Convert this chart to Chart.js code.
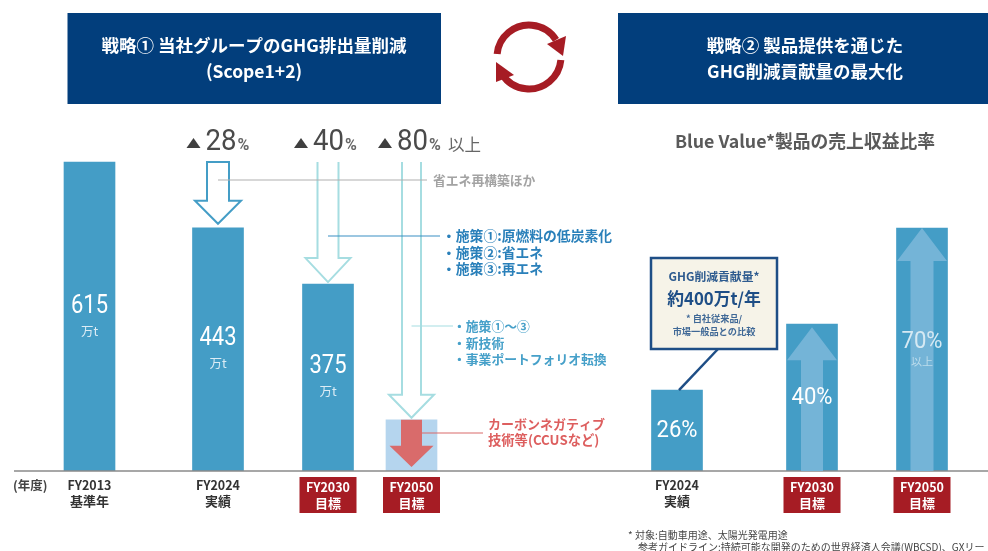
<!DOCTYPE html>
<html lang="ja">
<head>
<meta charset="utf-8">
<title>GHG排出量削減</title>
<style>
  html, body { margin: 0; background: #fff; }
  canvas { display: block; }
</style>
</head>
<body>
<canvas id="grafico" width="988" height="551"></canvas>
<script src="https://cdn.jsdelivr.net/npm/chart.js@4/dist/chart.umd.js"></script>
<script>
const emissionYears = ["FY2013", "FY2024", "FY2030", "FY2050"];
const emissionStatus = ["基準年", "実績", "目標", "目標"];
// The original bars are not to scale: these are the heights as drawn in the picture
const emissionValues = [615, 484, 372, 102];
const emissionLabels = ["615", "443", "375"];
const reductionLabels = ["28", "40", "80"];

const shareYears = ["FY2024", "FY2030", "FY2050"];
const shareStatus = ["実績", "目標", "目標"];
const shareValues = [23.3, 42.3, 70];
const shareLabels = ["26%", "40%", "70%"];

// Layout, kept apart from the data
const emissionCenters = [89.5, 218, 328, 411.5];
const shareCenters = [677, 812, 922];
const BASELINE = 471;

const BLUE = "#449dc6";
const PALE_BLUE = "#b5d5ee";
const ARROW_BLUE = "#74b4d7";
const TEAL = "#a6dde1";
const NAVY = "#023e7c";
const RED = "#a61c24";
const SOFT_RED = "#d96b6b";
const JP = '"Noto Sans CJK JP", "Noto Sans", sans-serif';
const NUM = 'Roboto, "Noto Sans", sans-serif';

const text = (ctx, str, x, y, font, color, align = "center", maxWidth) => {
  ctx.font = font;
  ctx.fillStyle = color;
  ctx.textAlign = align;
  ctx.textBaseline = "middle";
  // maxWidth squeezes the digits, the original uses a condensed face
  if (maxWidth) {
    ctx.fillText(str, x, y, maxWidth);
  } else {
    ctx.fillText(str, x, y);
  }
};

const line = (ctx, x1, y1, x2, y2, color, width) => {
  ctx.strokeStyle = color;
  ctx.lineWidth = width;
  ctx.beginPath();
  ctx.moveTo(x1, y1);
  ctx.lineTo(x2, y2);
  ctx.stroke();
};

// Block arrow, the tip goes to yTip (up or down depending on the y values)
const blockArrow = (ctx, cx, yStart, yHead, yTip, shaftHalf, headHalf, { fill, stroke, width, closed = true }) => {
  ctx.beginPath();
  ctx.moveTo(cx - shaftHalf, yStart);
  ctx.lineTo(cx - shaftHalf, yHead);
  ctx.lineTo(cx - headHalf, yHead);
  ctx.lineTo(cx, yTip);
  ctx.lineTo(cx + headHalf, yHead);
  ctx.lineTo(cx + shaftHalf, yHead);
  ctx.lineTo(cx + shaftHalf, yStart);
  if (closed) {
    ctx.closePath();
  }
  if (fill) {
    ctx.fillStyle = fill;
    ctx.fill();
  }
  if (stroke) {
    ctx.strokeStyle = stroke;
    ctx.lineWidth = width;
    ctx.stroke();
  }
};

const headerBox = (ctx, x1, x2, cx, lines) => {
  ctx.fillStyle = NAVY;
  ctx.fillRect(x1, 13, x2 - x1, 91);
  text(ctx, lines[0], cx, 45, `bold 17.5px ${JP}`, "#fff");
  text(ctx, lines[1], cx, 71, `bold 17.5px ${JP}`, "#fff");
};

const cycleIcon = (ctx, cx, cy) => {
  ctx.strokeStyle = RED;
  ctx.fillStyle = RED;
  ctx.lineWidth = 7;
  ctx.beginPath();
  ctx.arc(cx, cy, 32, Math.PI * 1.03, Math.PI * 1.82);
  ctx.stroke();
  ctx.beginPath();
  ctx.arc(cx, cy, 32, Math.PI * 0.03, Math.PI * 0.82);
  ctx.stroke();
  ctx.beginPath();
  ctx.moveTo(cx + 34, cy - 1);
  ctx.lineTo(cx + 37, cy - 21);
  ctx.lineTo(cx + 18, cy - 13);
  ctx.closePath();
  ctx.fill();
  ctx.beginPath();
  ctx.moveTo(cx - 33, cy + 5);
  ctx.lineTo(cx - 33, cy + 25);
  ctx.lineTo(cx - 15, cy + 18);
  ctx.closePath();
  ctx.fill();
};

const reductionHead = (ctx, xTriangle, label, extra) => {
  ctx.fillStyle = "#3f3f3f";
  ctx.beginPath();
  ctx.moveTo(xTriangle, 148);
  ctx.lineTo(xTriangle + 7, 138);
  ctx.lineTo(xTriangle + 14, 148);
  ctx.closePath();
  ctx.fill();
  text(ctx, label, xTriangle + 19, 143, `29px ${NUM}`, "#4a4a4a", "left", 31);
  text(ctx, "%", xTriangle + 51, 146, `bold 16px ${NUM}`, "#666", "left", 14);
  if (extra) {
    text(ctx, extra, xTriangle + 70, 145, `16.5px ${JP}`, "#666", "left");
  }
};

const xLabel = (ctx, cx, year, status, target) => {
  if (target) {
    ctx.fillStyle = RED;
    ctx.fillRect(cx - 28.5, 477, 57, 36);
    text(ctx, year, cx, 487, `bold 12.5px ${JP}`, "#fff");
    text(ctx, status, cx, 503, `bold 13px ${JP}`, "#fff");
  } else {
    text(ctx, year, cx, 485, `bold 12.5px ${JP}`, "#333");
    text(ctx, status, cx, 501, `bold 13px ${JP}`, "#333");
  }
};

const overlay = {
  id: "overlay",
  afterDatasetsDraw(chart) {
    const { ctx, scales } = chart;
    const x = (value) => scales.x.getPixelForValue(value);
    const yEmission = (value) => scales.yEmission.getPixelForValue(value);
    const yShare = (value) => scales.yShare.getPixelForValue(value);
    const top = yEmission(emissionValues[0]);

    ctx.save();

    // Baseline
    line(ctx, 14, BASELINE, 988, BASELINE, "#8a8a8a", 1.5);

    // Headers
    headerBox(ctx, 67.5, 441, 254, ["戦略① 当社グループのGHG排出量削減", "(Scope1+2)"]);
    headerBox(ctx, 618, 988, 805, ["戦略② 製品提供を通じた", "GHG削減貢献量の最大化"]);
    cycleIcon(ctx, 529, 57);

    // Reduction figures
    reductionHead(ctx, 186.5, reductionLabels[0]);
    reductionHead(ctx, 294, reductionLabels[1]);
    reductionHead(ctx, 378, reductionLabels[2], "以上");
    text(ctx, "Blue Value*製品の売上収益比率", 805, 141, `bold 17.8px ${JP}`, "#5a5a5a");

    // Arrows between the bars
    const bar1Top = yEmission(emissionValues[1]);
    const bar2Top = yEmission(emissionValues[2]);
    const bar3Top = yEmission(emissionValues[3]);
    blockArrow(ctx, x(emissionCenters[1]), top, bar1Top - 27, bar1Top - 4, 11, 23, { fill: "#fff", stroke: BLUE, width: 2 });
    blockArrow(ctx, x(emissionCenters[2]), top, bar2Top - 26, bar2Top - 2, 10.5, 22.5, { fill: "#fff", stroke: TEAL, width: 2, closed: false });
    blockArrow(ctx, x(emissionCenters[3]), top, bar3Top - 25, bar3Top - 2, 9.5, 22.5, { fill: "#fff", stroke: TEAL, width: 2, closed: false });
    blockArrow(ctx, x(emissionCenters[3]), bar3Top, bar3Top + 26, BASELINE - 4, 10.5, 22, { fill: SOFT_RED });

    // Arrows inside the share bars
    const share2Top = yShare(shareValues[1]);
    const share3Top = yShare(shareValues[2]);
    blockArrow(ctx, x(shareCenters[1]), BASELINE, share2Top + 36, share2Top + 3, 11, 25, { fill: ARROW_BLUE });
    blockArrow(ctx, x(shareCenters[2]), BASELINE, share3Top + 33, share3Top, 11.5, 25, { fill: ARROW_BLUE });

    // Leader lines and notes
    line(ctx, x(emissionCenters[1]), 180, 427, 180, "#b0b0b0", 1.2);
    text(ctx, "省エネ再構築ほか", 433, 180, `bold 12.8px ${JP}`, "#a3a3a3", "left");

    line(ctx, x(emissionCenters[2]), 236, 440, 236, "#3a8fc4", 1.2);
    const noteBlue = "#2a80ba";
    text(ctx, "・施策①:原燃料の低炭素化", 442, 236, `bold 13.8px ${JP}`, noteBlue, "left");
    text(ctx, "・施策②:省エネ", 442, 253, `bold 13.8px ${JP}`, noteBlue, "left");
    text(ctx, "・施策③:再エネ", 442, 269, `bold 13.8px ${JP}`, noteBlue, "left");

    line(ctx, x(emissionCenters[3]), 326, 453, 326, TEAL, 1.2);
    const noteTeal = "#46a0c9";
    text(ctx, "・施策①〜③", 453, 326, `bold 12.8px ${JP}`, noteTeal, "left");
    text(ctx, "・新技術", 453, 343, `bold 12.8px ${JP}`, noteTeal, "left");
    text(ctx, "・事業ポートフォリオ転換", 453, 359, `bold 12.8px ${JP}`, noteTeal, "left");

    line(ctx, 422, 433, 483, 433, SOFT_RED, 1.2);
    text(ctx, "カーボンネガティブ", 488, 424, `bold 13px ${JP}`, "#dd5f5f", "left");
    text(ctx, "技術等(CCUSなど)", 488, 440, `bold 13.3px ${JP}`, "#dd5f5f", "left");

    // Value labels inside the bars
    emissionLabels.forEach((label, i) => {
      const cy = [307, 339, 367][i];
      text(ctx, label, x(emissionCenters[i]), cy, `25px ${NUM}`, "#fff", "center", 37);
      text(ctx, "万t", x(emissionCenters[i]), cy + 24, `12.5px ${JP}`, "#dcecf5");
    });
    const shareLabelY = [431, 398, 342];
    shareLabels.forEach((label, i) => {
      const color = i === 2 ? "#d6e9f3" : "#fff";
      text(ctx, label, x(shareCenters[i]), shareLabelY[i], `24px ${NUM}`, color, "center", 41);
    });
    text(ctx, "以上", x(shareCenters[2]), 362, `11px ${JP}`, "#bcdcec");

    // Callout
    line(ctx, 718, 349, 679, yShare(shareValues[0]), "#1e4e86", 2.5);
    ctx.fillStyle = "#f6f3e8";
    ctx.fillRect(651, 258, 126, 91);
    ctx.strokeStyle = "#1e4e86";
    ctx.lineWidth = 2.5;
    ctx.strokeRect(651, 258, 126, 91);
    text(ctx, "GHG削減貢献量*", 714, 277, `bold 11.8px ${JP}`, "#2e5b8f");
    text(ctx, "約400万t/年", 714, 299, `bold 16.8px ${JP}`, "#1e4e86");
    text(ctx, "* 自社従来品/", 714, 319, `bold 9.2px ${JP}`, "#3f6896");
    text(ctx, "市場一般品との比較", 714, 332, `bold 9.2px ${JP}`, "#3f6896");

    // X axis
    text(ctx, "(年度)", 13, 485, `bold 12.5px ${JP}`, "#444", "left");
    emissionYears.forEach((year, i) => {
      xLabel(ctx, x(emissionCenters[i]), year, emissionStatus[i], emissionStatus[i] === "目標");
    });
    shareYears.forEach((year, i) => {
      xLabel(ctx, x(shareCenters[i]), year, shareStatus[i], shareStatus[i] === "目標");
    });

    // Footnote, cut by the right edge as in the original
    text(ctx, "* 対象:自動車用途、太陽光発電用途", 628, 535, `10px ${JP}`, "#444", "left");
    text(ctx, "参考ガイドライン:持続可能な開発のための世界経済人会議(WBCSD)、GXリー", 638, 547, `10px ${JP}`, "#444", "left");

    ctx.restore();
  },
};

new Chart(document.getElementById("grafico"), {
  type: "bar",
  data: {
    datasets: [
      {
        label: "GHG排出量",
        data: emissionValues.map((value, i) => ({ x: emissionCenters[i], y: value })),
        backgroundColor: emissionValues.map((_, i) => (i === 3 ? PALE_BLUE : BLUE)),
        yAxisID: "yEmission",
        barThickness: 51,
        grouped: false,
      },
      {
        label: "Blue Value製品の売上収益比率",
        data: shareValues.map((value, i) => ({ x: shareCenters[i], y: value })),
        backgroundColor: BLUE,
        yAxisID: "yShare",
        barThickness: 51,
        grouped: false,
      },
    ],
  },
  options: {
    responsive: false,
    animation: false,
    layout: { padding: { bottom: 80 } },
    plugins: {
      legend: { display: false },
      tooltip: { enabled: false },
    },
    scales: {
      x: { type: "linear", min: 0, max: 988, offset: false, display: false },
      yEmission: { min: 0, max: 937.4, display: false },
      yShare: { min: 0, max: 135.7, display: false },
    },
  },
  plugins: [overlay],
});
</script>
</body>
</html>
